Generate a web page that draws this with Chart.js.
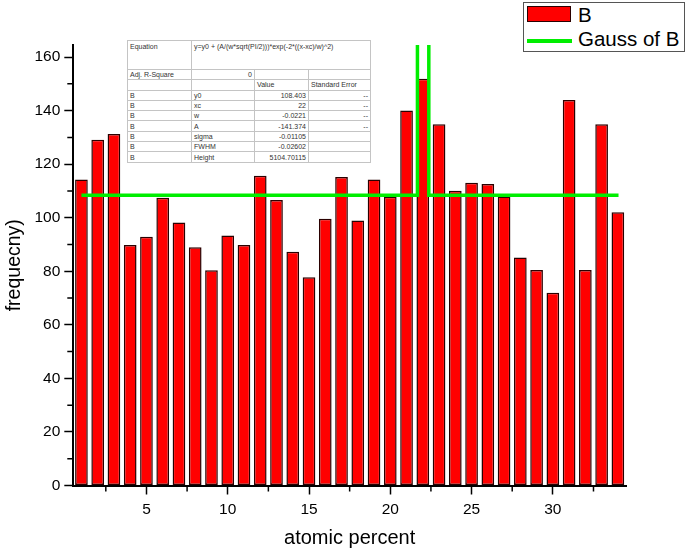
<!DOCTYPE html>
<html>
<head>
<meta charset="utf-8">
<script src="https://cdn.jsdelivr.net/npm/chart.js@4.4.1/dist/chart.umd.min.js"></script>
<style>
  html, body { margin: 0; padding: 0; background: #fff; }
  #wrap { position: relative; width: 685px; height: 552px; font-family: 'Liberation Sans', Arial, sans-serif; }
  #chart { position: absolute; left: 0; top: 0; }
  #fitTable { position: absolute; left: 127px; top: 40px; width: 244px; border-collapse: collapse; table-layout: fixed;
    font-size: 7px; color: #333; background: #fff; }
  #fitTable td { border: 1px solid #c4c4c4; padding: 0 2px; height: 9.3px; line-height: 9px; white-space: nowrap; overflow: hidden; }
  #fitTable td.r { text-align: right; }
  #fitTable tr.eq td { height: 27px; vertical-align: top; padding-top: 1px; }
  #legend { position: absolute; left: 523px; top: 2px; width: 160px; height: 48px; border: 1px solid #555; background: #fff; }
  .lg { position: absolute; left: 3px; height: 22px; font-size: 20.5px; line-height: 22px; color: #000; }
  .lg .sw { position: absolute; left: 0; width: 45px; }
  .lg span { position: absolute; left: 51px; white-space: nowrap; }
</style>
</head>
<body>
<div id="wrap">
  <canvas id="chart" width="685" height="552"></canvas>
  <table id="fitTable"></table>
  <div id="legend"></div>
</div>
<script>
// bar data: atomic percent 1..34
const positions = [1, 2, 3, 4, 5, 6, 7, 8, 9, 10, 11, 12, 13, 14, 15, 16, 17,
  18, 19, 20, 21, 22, 23, 24, 25, 26, 27, 28, 29, 30, 31, 32, 33, 34];
const counts = [114.3, 129.1, 131.3, 89.8, 92.9, 107.5, 98.2, 89, 80.4, 93.4, 89.8, 115.7, 106.6, 87.3, 77.8, 99.6, 115.2,
  99, 114.3, 107.8, 140, 151.9, 134.9, 110.1, 113.1, 112.6, 107.9, 85.1, 80.5, 72, 144, 80.5, 134.9, 102];

// fitted curve as drawn (spike runs off the top of the plot)
const gaussX = [1, 21.67, 21.67, 22.37, 22.37, 34.04];
const gaussY = [108.4, 108.4, 175, 175, 108.4, 108.4];

const xTicks = [5, 10, 15, 20, 25, 30];
const xMinor = [2.5, 7.5, 12.5, 17.5, 22.5, 27.5, 32.5];
const yTicks = [0, 20, 40, 60, 80, 100, 120, 140, 160];
const yMinor = [10, 30, 50, 70, 90, 110, 130, 150];

// fit report
const fitEquation = 'y=y0 + (A/(w*sqrt(PI/2)))*exp(-2*((x-xc)/w)^2)';
const adjRSquare = '0';
const paramNames = ['y0', 'xc', 'w', 'A', 'sigma', 'FWHM', 'Height'];
const paramValues = ['108.403', '22', '-0.0221', '-141.374', '-0.01105', '-0.02602', '5104.70115'];
const paramErrors = ['--', '--', '--', '--', '', '', ''];

const FONT = "'Liberation Sans', Arial, sans-serif";

const minorTicks = {
  id: 'minorTicks',
  afterDraw(chart) {
    const { ctx, chartArea, scales: { x, y } } = chart;
    ctx.save();
    ctx.strokeStyle = '#000';
    ctx.lineWidth = 1.5;
    ctx.beginPath();
    yMinor.forEach(v => {
      const py = y.getPixelForValue(v);
      ctx.moveTo(chartArea.left - 6, py);
      ctx.lineTo(chartArea.left, py);
    });
    xMinor.forEach(v => {
      const px = x.getPixelForValue(v);
      ctx.moveTo(px, chartArea.bottom);
      ctx.lineTo(px, chartArea.bottom + 6);
    });
    ctx.stroke();
    ctx.restore();
  }
};

const chart = new Chart(document.getElementById('chart'), {
  data: {
    datasets: [{
      type: 'bar',
      label: 'B',
      data: positions.map((p, i) => ({ x: p, y: counts[i] })),
      backgroundColor: '#ff0000',
      borderColor: '#2a0000',
      borderWidth: 1.5,
      borderSkipped: false,
      categoryPercentage: 1,
      barPercentage: 0.78,
      order: 2
    }, {
      type: 'line',
      label: 'Gauss of B',
      data: gaussX.map((p, i) => ({ x: p, y: gaussY[i] })),
      borderColor: '#00ee00',
      borderWidth: 3.5,
      borderJoinStyle: 'miter',
      pointRadius: 0,
      tension: 0,
      clip: 0,
      order: 1
    }]
  },
  options: {
    responsive: false,
    animation: false,
    devicePixelRatio: 1,
    layout: { padding: { left: 0, right: 59, top: 45, bottom: 0 } },
    plugins: { legend: { display: false }, tooltip: { enabled: false } },
    scales: {
      x: {
        type: 'linear',
        min: 0.5,
        max: 34.5,
        offset: false,
        afterBuildTicks: s => { s.ticks = xTicks.map(v => ({ value: v })); },
        afterFit: s => { s.height = 66.5; },
        grid: { display: true, offset: false, drawOnChartArea: false, drawTicks: true, tickLength: 9, tickWidth: 1.5, tickColor: '#000' },
        border: { display: true, color: '#000', width: 2 },
        ticks: { color: '#000', font: { family: FONT, size: 15.5 }, padding: 6, maxRotation: 0 },
        title: { display: true, text: 'atomic percent', color: '#000', font: { family: FONT, size: 20 }, padding: { top: 0, bottom: 2 } }
      },
      y: {
        min: 0,
        max: 164.5,
        afterBuildTicks: s => { s.ticks = yTicks.map(v => ({ value: v })); },
        afterFit: s => { s.width = 73.3; },
        grid: { display: true, drawOnChartArea: false, drawTicks: true, tickLength: 9, tickWidth: 1.5, tickColor: '#000' },
        border: { display: true, color: '#000', width: 2 },
        ticks: { color: '#000', font: { family: FONT, size: 15.5 }, padding: 4 },
        title: { display: true, text: 'frequecny)', color: '#000', font: { family: FONT, size: 19.5 }, padding: { top: 2.5, bottom: 0 } }
      }
    }
  },
  plugins: [minorTicks]
});

// inset fit table
const table = document.getElementById('fitTable');
let html = '<colgroup><col style="width:64px"><col style="width:63px"><col style="width:54px"><col style="width:62px"></colgroup>';
html += `<tr class="eq"><td>Equation</td><td colspan="3">${fitEquation}</td></tr>`;
html += `<tr><td>Adj. R-Square</td><td class="r">${adjRSquare}</td><td></td><td></td></tr>`;
html += '<tr><td></td><td></td><td>Value</td><td>Standard Error</td></tr>';
paramNames.forEach((n, i) => {
  html += `<tr><td>B</td><td>${n}</td><td class="r">${paramValues[i]}</td><td class="r">${paramErrors[i]}</td></tr>`;
});
table.innerHTML = html;

// legend built from the datasets
const legend = document.getElementById('legend');
chart.data.datasets.forEach((ds, i) => {
  const item = document.createElement('div');
  item.className = 'lg';
  item.style.top = (i * 24 + 1) + 'px';
  const sw = document.createElement('div');
  sw.className = 'sw';
  if (ds.type === 'bar') {
    sw.style.top = '2px';
    sw.style.height = '14px';
    sw.style.background = ds.backgroundColor;
    sw.style.border = '1.5px solid ' + ds.borderColor;
    sw.style.width = '42px';
  } else {
    sw.style.top = '11px';
    sw.style.height = ds.borderWidth + 'px';
    sw.style.background = ds.borderColor;
  }
  const label = document.createElement('span');
  label.textContent = ds.label;
  item.appendChild(sw);
  item.appendChild(label);
  legend.appendChild(item);
});
</script>
</body>
</html>
